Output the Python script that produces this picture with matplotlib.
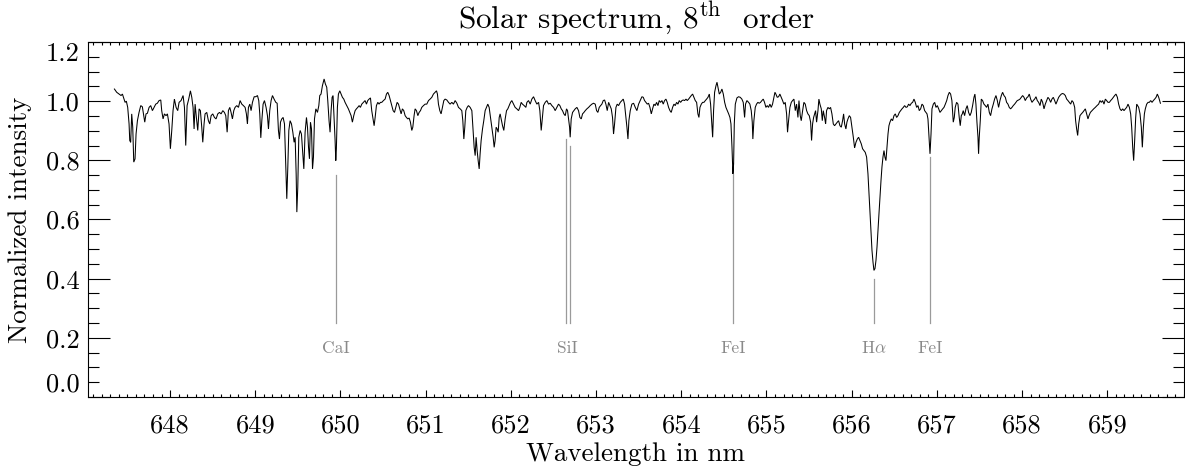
import matplotlib
matplotlib.use("Agg")
import matplotlib.pyplot as plt
from matplotlib.ticker import FixedLocator, FixedFormatter, MultipleLocator

plt.rcParams['font.family'] = 'cmr10'
plt.rcParams['mathtext.fontset'] = 'cm'
plt.rcParams['axes.unicode_minus'] = False
plt.rcParams['axes.formatter.use_mathtext'] = True

# ---------------- data ----------------
wavelength = [
    647.347, 647.374, 647.401, 647.425, 647.441, 647.456, 647.472, 647.487, 647.503, 647.519,
    647.527, 647.538, 647.550, 647.562, 647.574, 647.589, 647.601, 647.617, 647.636, 647.656,
    647.675, 647.691, 647.703, 647.718, 647.734, 647.754, 647.773, 647.793, 647.812, 647.832,
    647.851, 647.871, 647.891, 647.902, 647.918, 647.934, 647.953, 647.969, 647.988, 648.004,
    648.020, 648.035, 648.051, 648.071, 648.090, 648.106, 648.129, 648.153, 648.169, 648.184,
    648.200, 648.219, 648.239, 648.255, 648.270, 648.282, 648.294, 648.309, 648.325, 648.341,
    648.356, 648.372, 648.384, 648.399, 648.411, 648.431, 648.450, 648.466, 648.482, 648.501,
    648.521, 648.540, 648.560, 648.580, 648.599, 648.619, 648.638, 648.654, 648.670, 648.685,
    648.701, 648.716, 648.732, 648.748, 648.763, 648.783, 648.803, 648.822, 648.842, 648.861,
    648.881, 648.896, 648.908, 648.920, 648.936, 648.951, 648.967, 648.987, 649.006, 649.026,
    649.041, 649.053, 649.065, 649.077, 649.092, 649.108, 649.127, 649.143, 649.155, 649.170,
    649.186, 649.202, 649.221, 649.241, 649.257, 649.272, 649.284, 649.296, 649.311, 649.327,
    649.343, 649.358, 649.370, 649.382, 649.394, 649.409, 649.425, 649.441, 649.456, 649.468,
    649.480, 649.488, 649.499, 649.511, 649.527, 649.542, 649.558, 649.570, 649.585, 649.601,
    649.613, 649.625, 649.636, 649.648, 649.660, 649.672, 649.683, 649.695, 649.711, 649.730,
    649.746,
    649.757, 649.772, 649.788, 649.808, 649.823, 649.839, 649.851, 649.866, 649.878, 649.890,
    649.902, 649.913, 649.925, 649.937, 649.945, 649.952, 649.964, 649.976, 649.992, 650.007,
    650.023, 650.039, 650.054, 650.074, 650.093, 650.109, 650.125, 650.140, 650.156, 650.172,
    650.187, 650.203, 650.219, 650.234, 650.250, 650.270, 650.289, 650.305, 650.320, 650.336,
    650.352, 650.367, 650.383, 650.395, 650.407, 650.422, 650.438, 650.453, 650.469, 650.485,
    650.504, 650.524, 650.540, 650.555, 650.571, 650.587, 650.602, 650.618, 650.634, 650.649,
    650.665, 650.681, 650.696, 650.712, 650.727, 650.743, 650.759, 650.774, 650.790, 650.806,
    650.821, 650.837, 650.849, 650.864, 650.876, 650.892, 650.908, 650.923, 650.939, 650.954,
    650.974, 650.994, 651.013, 651.033, 651.052, 651.072, 651.091, 651.111, 651.127, 651.138,
    651.150, 651.166, 651.181, 651.197, 651.213, 651.228, 651.248, 651.268, 651.287, 651.307,
    651.326, 651.346, 651.366, 651.385, 651.405, 651.424, 651.436, 651.448, 651.459, 651.471,
    651.487, 651.502, 651.522, 651.542, 651.557, 651.569, 651.581, 651.592, 651.604, 651.616,
    651.628, 651.639, 651.651, 651.667, 651.682, 651.698, 651.714, 651.729, 651.745, 651.761,
    651.776, 651.792, 651.804, 651.815, 651.827, 651.839, 651.851, 651.863, 651.874, 651.886,
    651.902, 651.917, 651.933, 651.949, 651.964, 651.980, 651.996, 652.011, 652.031, 652.050,
    652.070, 652.090, 652.105, 652.121, 652.136, 652.156, 652.176,
    652.188, 652.207, 652.227, 652.246, 652.266, 652.285, 652.305, 652.325, 652.340, 652.356,
    652.368, 652.383, 652.403, 652.422, 652.442, 652.462, 652.481, 652.501, 652.520, 652.540,
    652.559, 652.575, 652.591, 652.606, 652.622, 652.638, 652.653, 652.665, 652.677, 652.689,
    652.696, 652.708, 652.724, 652.739, 652.755, 652.775, 652.794, 652.810, 652.826, 652.841,
    652.857, 652.873, 652.892, 652.912, 652.931, 652.951, 652.970, 652.990, 653.006, 653.021,
    653.037, 653.053, 653.068, 653.084, 653.100, 653.115, 653.131, 653.147, 653.162, 653.178,
    653.193, 653.205, 653.217, 653.233, 653.248, 653.264, 653.284, 653.303, 653.319, 653.334,
    653.350, 653.362, 653.374, 653.385, 653.401, 653.420, 653.440, 653.460, 653.479, 653.499,
    653.518, 653.538, 653.554, 653.569, 653.585, 653.601, 653.616, 653.632, 653.648, 653.663,
    653.679, 653.694, 653.710, 653.726, 653.741, 653.757, 653.773, 653.788, 653.804, 653.820,
    653.835, 653.851, 653.867, 653.882, 653.898, 653.914, 653.929, 653.945, 653.961, 653.976,
    653.992, 654.008, 654.023, 654.039, 654.055, 654.070, 654.086, 654.101, 654.117, 654.133,
    654.148, 654.164, 654.180, 654.195, 654.207, 654.219, 654.235, 654.250, 654.266, 654.282,
    654.297, 654.313, 654.329, 654.344, 654.356, 654.368, 654.379, 654.391, 654.407, 654.419,
    654.430, 654.446, 654.462, 654.477, 654.493, 654.509, 654.524, 654.540, 654.556, 654.571,
    654.583, 654.595, 654.606, 654.614, 654.622, 654.634,
    654.653, 654.672, 654.692, 654.711, 654.727, 654.743, 654.754, 654.770, 654.790, 654.805,
    654.821, 654.833, 654.840, 654.852, 654.868, 654.883, 654.899, 654.915, 654.930, 654.946,
    654.962, 654.977, 654.993, 655.009, 655.024, 655.040, 655.056, 655.071, 655.087, 655.099,
    655.110, 655.126, 655.142, 655.157, 655.173, 655.189, 655.204, 655.220, 655.236, 655.247,
    655.259, 655.275, 655.291, 655.306, 655.322, 655.338, 655.353, 655.369, 655.381, 655.396,
    655.408, 655.424, 655.439, 655.455, 655.471, 655.486, 655.502, 655.518, 655.529, 655.541,
    655.553, 655.565, 655.576, 655.588, 655.604, 655.615, 655.627, 655.643, 655.655, 655.666,
    655.682, 655.694, 655.705, 655.721, 655.737, 655.752, 655.768, 655.784, 655.799, 655.815,
    655.831, 655.846, 655.862, 655.878, 655.893, 655.905, 655.917, 655.932, 655.944, 655.956,
    655.972, 655.987, 656.003, 656.019, 656.034, 656.050, 656.066, 656.081, 656.097, 656.112,
    656.128, 656.144, 656.159, 656.175, 656.191, 656.203, 656.214, 656.226, 656.238, 656.250,
    656.261, 656.273, 656.285, 656.297, 656.308, 656.320, 656.332, 656.344, 656.355, 656.367,
    656.379, 656.390, 656.402, 656.414, 656.426, 656.437, 656.449, 656.465, 656.480, 656.496,
    656.512, 656.527, 656.543, 656.559, 656.574, 656.590, 656.606, 656.621, 656.637, 656.653,
    656.668, 656.684, 656.700, 656.715, 656.731, 656.746, 656.762, 656.778, 656.793, 656.809,
    656.825, 656.840, 656.856, 656.872, 656.884, 656.895, 656.907, 656.919, 656.931, 656.942,
    656.958, 656.974, 656.989, 657.005, 657.021, 657.036, 657.052, 657.068, 657.083, 657.099,
    657.115, 657.130, 657.146,
    657.161, 657.176, 657.192, 657.204, 657.215, 657.231, 657.247, 657.262, 657.274, 657.286,
    657.298, 657.309, 657.325, 657.341, 657.356, 657.372, 657.388, 657.403, 657.419, 657.435,
    657.446, 657.458, 657.470, 657.482, 657.489, 657.497, 657.509, 657.521, 657.536, 657.552,
    657.568, 657.583, 657.599, 657.615, 657.630, 657.646, 657.662, 657.677, 657.693, 657.709,
    657.724, 657.740, 657.756, 657.771, 657.787, 657.803, 657.818, 657.834, 657.849, 657.865,
    657.881, 657.896, 657.912, 657.928, 657.943, 657.959, 657.975, 657.990, 658.006, 658.022,
    658.037, 658.053, 658.069, 658.084, 658.100, 658.116, 658.131, 658.147, 658.163, 658.178,
    658.194, 658.210, 658.225, 658.241, 658.257, 658.272, 658.288, 658.303, 658.319, 658.335,
    658.350, 658.366, 658.382, 658.397, 658.413, 658.429, 658.444, 658.460, 658.476, 658.491,
    658.507, 658.523, 658.538, 658.554, 658.570, 658.585, 658.601, 658.617, 658.628, 658.640,
    658.652, 658.664, 658.679, 658.695, 658.711, 658.726, 658.742, 658.758, 658.773, 658.785,
    658.801, 658.820, 658.840, 658.859, 658.879, 658.898, 658.914, 658.930, 658.945, 658.961,
    658.977, 658.992, 659.008, 659.024, 659.039, 659.055, 659.071, 659.086, 659.102, 659.118,
    659.133, 659.149, 659.165, 659.180, 659.196, 659.212, 659.227, 659.243, 659.259, 659.274,
    659.286, 659.298, 659.309, 659.321, 659.333, 659.345, 659.356, 659.368, 659.384, 659.399,
    659.411, 659.423, 659.435, 659.446, 659.462, 659.478, 659.493, 659.509, 659.525, 659.540,
    659.556, 659.572, 659.587, 659.603, 659.623,
]

intensity = [
    1.041, 1.030, 1.024, 1.019, 1.024, 1.011, 0.996, 1.000, 0.979, 0.923,
    0.867, 0.861, 0.957, 0.912, 0.794, 0.805, 0.889, 0.934, 0.962, 0.985,
    0.981, 0.951, 0.929, 0.957, 0.959, 0.979, 0.985, 0.968, 0.979, 0.990,
    0.993, 1.002, 1.004, 0.968, 0.940, 0.957, 0.951, 0.957, 0.923, 0.839,
    0.901, 0.968, 1.007, 0.979, 0.968, 0.996, 1.002, 1.019, 0.979, 0.850,
    0.985, 1.007, 1.035, 1.013, 0.979, 0.906, 0.990, 0.945, 0.901, 0.974,
    0.968, 0.912, 0.861, 0.923, 0.957, 0.962, 0.934, 0.923, 0.951, 0.957,
    0.945, 0.940, 0.957, 0.962, 0.957, 0.968, 0.962, 0.951, 0.895, 0.968,
    0.979, 0.962, 0.940, 0.968, 0.979, 0.985, 0.979, 1.002, 0.990, 0.985,
    0.979, 0.957, 0.923, 0.979, 0.990, 0.968, 0.996, 1.015, 1.015, 1.019,
    1.002, 0.957, 0.876, 0.934, 0.990, 1.002, 0.979, 0.951, 0.906, 0.968,
    1.002, 1.019, 1.007, 0.996, 0.993, 0.901, 0.872, 0.929, 0.940, 0.945,
    0.923, 0.788, 0.670, 0.777, 0.901, 0.934, 0.923, 0.895, 0.861, 0.878,
    0.754, 0.625, 0.709, 0.878, 0.901, 0.889, 0.822, 0.771, 0.895, 0.945,
    0.912, 0.844, 0.805, 0.929, 0.906, 0.771, 0.811, 0.940, 0.974, 0.962,
    0.985,
    1.019, 1.024, 1.052, 1.075, 1.058, 1.047, 1.002, 0.934, 0.895, 0.968,
    1.013, 1.019, 0.945, 0.867, 0.799, 0.839, 0.979, 1.024, 1.035, 1.024,
    1.013, 1.007, 0.996, 0.985, 0.974, 0.962, 0.951, 0.929, 0.951, 0.968,
    0.974, 0.979, 0.985, 0.979, 0.990, 0.996, 1.002, 0.990, 1.002, 1.007,
    1.011, 0.968, 0.940, 0.917, 0.945, 0.985, 0.996, 0.990, 0.996, 0.996,
    1.002, 1.007, 1.024, 1.030, 1.019, 1.002, 0.985, 0.968, 0.962, 0.979,
    0.996, 0.990, 0.974, 0.957, 0.974, 0.968, 0.951, 0.945, 0.940, 0.943,
    0.929, 0.901, 0.912, 0.951, 0.974, 0.968, 0.951, 0.962, 0.968, 0.979,
    0.985, 0.990, 0.990, 1.002, 1.007, 1.013, 1.024, 1.030, 1.035, 1.024,
    0.990, 0.968, 0.957, 0.979, 1.002, 1.007, 1.004, 0.996, 0.990, 0.996,
    0.990, 1.002, 0.993, 0.979, 0.974, 0.968, 0.934, 0.872, 0.912, 0.968,
    0.979, 0.985, 0.979, 0.968, 0.901, 0.844, 0.816, 0.878, 0.833, 0.799,
    0.771, 0.822, 0.867, 0.906, 0.934, 0.968, 0.979, 0.990, 0.979, 0.945,
    0.912, 0.878, 0.844, 0.867, 0.912, 0.906, 0.895, 0.945, 0.957, 0.940,
    0.917, 0.901, 0.940, 0.968, 0.974, 0.985, 0.996, 1.002, 0.990, 0.979,
    0.974, 0.968, 0.979, 0.996, 0.990, 0.985, 0.979,
    0.996, 1.002, 0.990, 1.007, 1.015, 1.002, 0.990, 0.996, 0.968, 0.901,
    0.940, 0.985, 0.996, 1.002, 0.990, 0.993, 0.985, 0.979, 0.968, 0.979,
    0.990, 0.985, 0.974, 0.968, 0.957, 0.951, 0.974, 0.968, 0.940, 0.912,
    0.878, 0.940, 0.962, 0.968, 0.974, 0.979, 0.968, 0.945, 0.940, 0.957,
    0.962, 0.968, 0.974, 0.979, 0.985, 0.990, 0.993, 0.990, 0.968, 0.962,
    0.979, 0.985, 0.990, 1.002, 1.004, 0.990, 0.968, 0.996, 0.985, 0.974,
    0.945, 0.889, 0.923, 0.979, 0.990, 0.985, 0.996, 1.002, 1.007, 0.990,
    0.945, 0.912, 0.872, 0.934, 0.968, 0.990, 0.993, 0.979, 0.968, 0.990,
    1.002, 1.015, 1.013, 1.002, 0.996, 0.990, 0.993, 0.979, 0.957, 0.974,
    0.990, 0.985, 0.996, 0.985, 1.002, 0.996, 1.002, 0.990, 1.002, 1.007,
    0.996, 0.979, 0.968, 0.962, 0.979, 0.990, 0.985, 0.996, 0.990, 1.002,
    0.996, 1.002, 1.004, 1.002, 1.007, 1.002, 1.007, 1.013, 1.019, 1.024,
    1.013, 1.002, 0.996, 0.957, 0.945, 0.979, 0.990, 0.996, 0.996, 1.002,
    1.007, 1.013, 1.024, 0.990, 0.934, 0.878, 0.968, 1.030, 1.052, 1.064,
    1.047, 1.024, 1.030, 1.041, 1.024, 0.996, 0.979, 0.968, 0.957, 0.945,
    0.923, 0.844, 0.754, 0.788, 0.923, 0.990,
    1.011, 1.015, 1.013, 1.007, 0.996, 0.945, 0.990, 1.002, 0.996, 0.990,
    0.968, 0.929, 0.872, 0.934, 0.979, 0.990, 0.996, 0.993, 0.996, 1.002,
    1.007, 0.996, 0.979, 0.985, 0.979, 0.990, 0.979, 0.990, 1.013, 1.030,
    1.024, 1.013, 1.015, 1.024, 1.013, 1.002, 0.990, 0.996, 0.957, 0.895,
    0.934, 0.979, 0.996, 1.002, 1.007, 0.968, 0.990, 0.945, 1.002, 0.951,
    0.934, 0.968, 0.996, 0.990, 0.968, 0.957, 0.951, 0.929, 0.867, 0.923,
    0.945, 0.957, 0.968, 0.929, 0.968, 1.007, 0.990, 0.974, 0.934, 0.968,
    0.945, 0.923, 0.968, 0.979, 0.974, 0.979, 0.957, 0.923, 0.917, 0.923,
    0.929, 0.934, 0.917, 0.912, 0.934, 0.957, 0.923, 0.906, 0.929, 0.940,
    0.951, 0.945, 0.912, 0.878, 0.842, 0.861, 0.872, 0.878, 0.867, 0.856,
    0.839, 0.833, 0.827, 0.811, 0.754, 0.687, 0.619, 0.552, 0.496, 0.456,
    0.428, 0.434, 0.462, 0.507, 0.563, 0.619, 0.676, 0.732, 0.777, 0.811,
    0.833, 0.811, 0.799, 0.844, 0.889, 0.917, 0.929, 0.940, 0.934, 0.951,
    0.957, 0.945, 0.951, 0.962, 0.968, 0.974, 0.979, 0.985, 0.979, 0.981,
    0.990, 0.985, 0.993, 0.996, 1.007, 0.996, 0.979, 0.985, 0.968, 0.974,
    0.990, 0.985, 0.968, 0.962, 0.957, 0.940, 0.878, 0.822, 0.889, 0.974,
    0.990, 0.996, 0.979, 0.985, 0.974, 0.962, 0.968, 0.974, 0.979, 0.990,
    1.002, 1.019, 1.030,
    1.024, 1.002, 0.929, 0.945, 0.979, 0.996, 0.990, 0.945, 0.917, 0.951,
    0.957, 0.968, 0.951, 0.974, 0.985, 0.962, 0.951, 0.962, 0.985, 1.013,
    1.024, 0.990, 0.929, 0.878, 0.822, 0.878, 0.934, 1.007, 1.002, 0.990,
    0.985, 0.979, 0.990, 0.962, 0.951, 0.974, 0.990, 1.007, 1.019, 1.002,
    0.979, 1.002, 1.019, 1.030, 1.019, 1.013, 0.996, 0.990, 0.979, 0.974,
    0.979, 0.985, 0.990, 0.996, 1.002, 1.004, 1.007, 1.013, 1.019, 1.013,
    1.002, 1.011, 1.015, 1.024, 1.007, 0.996, 1.002, 1.007, 1.015, 1.002,
    0.996, 0.985, 1.007, 0.996, 0.974, 0.990, 1.002, 1.013, 1.007, 0.996,
    1.007, 1.013, 1.002, 0.990, 1.002, 1.013, 1.019, 1.024, 1.026, 1.024,
    1.019, 1.007, 1.002, 0.996, 0.990, 1.002, 0.996, 0.979, 0.934, 0.906,
    0.884, 0.923, 0.951, 0.957, 0.962, 0.968, 0.974, 0.957, 0.940, 0.951,
    0.962, 0.968, 0.974, 0.979, 0.985, 0.990, 1.002, 0.996, 1.002, 0.990,
    1.007, 1.002, 0.996, 0.996, 1.002, 1.007, 1.013, 1.019, 1.024, 1.013,
    0.990, 0.974, 0.968, 0.974, 0.968, 0.974, 0.979, 0.990, 0.979, 0.957,
    0.912, 0.844, 0.799, 0.867, 0.945, 0.990, 0.985, 0.979, 0.957, 0.912,
    0.844, 0.912, 0.957, 0.974, 0.990, 0.996, 0.996, 1.002, 0.996, 1.002,
    1.007, 1.013, 1.024, 1.013, 0.993,
]

# identified lines: label, label position, marker wavelengths, marker top
line_labels = ['CaI', 'SiI', 'FeI', r'H$\alpha$', 'FeI']
label_wavelengths = [649.945, 652.668, 654.606, 656.261, 656.919]
marker_wavelengths = [649.945, 652.645, 652.692, 654.606, 656.261, 656.919]
marker_tops = [0.75, 0.872, 0.850, 0.755, 0.40, 0.81]
marker_bottom = 0.25
label_level = 0.165

x_ticks = [648, 649, 650, 651, 652, 653, 654, 655, 656, 657, 658, 659]
x_ticklabels = ['648', '649', '650', '651', '652', '653', '654', '655', '656', '657', '658', '659']
y_ticks = [0.0, 0.2, 0.4, 0.6, 0.8, 1.0, 1.2]
y_ticklabels = ['0.0', '0.2', '0.4', '0.6', '0.8', '1.0', '1.2']

title = r'Solar spectrum, 8$^{\mathrm{th}}$  order'
xlabel = 'Wavelength in nm'
ylabel = 'Normalized intensity'

# ---------------- figure ----------------
W, H = 1185, 466
fig = plt.figure(figsize=(W / 100, H / 100), dpi=100)
ax = fig.add_axes([88 / W, 1 - 397 / H, 1096 / W, 355 / H])

ax.plot(wavelength, intensity, color='black', lw=0.75, solid_joinstyle='miter')

grey = '#9a9a9a'
for wl, top in zip(marker_wavelengths, marker_tops):
    ax.plot([wl, wl], [marker_bottom, top], color=grey, lw=0.9)
for lab, wl in zip(line_labels, label_wavelengths):
    ax.text(wl, label_level, lab, color='#8a8a8a', fontsize=12.5,
            ha='center', va='center')

ax.set_xlim(647.037, 659.90)
ax.set_ylim(0.0, 1.2)

ax.xaxis.set_major_locator(FixedLocator(x_ticks))
ax.xaxis.set_major_formatter(FixedFormatter(x_ticklabels))
ax.xaxis.set_minor_locator(MultipleLocator(0.1))
ax.yaxis.set_major_locator(FixedLocator(y_ticks))
ax.yaxis.set_major_formatter(FixedFormatter(y_ticklabels))
ax.yaxis.set_minor_locator(MultipleLocator(0.05))

ax.tick_params(axis='both', which='both', direction='in', top=True, right=True,
               width=0.8, colors='black')
ax.tick_params(axis='x', which='major', length=5.0, pad=12, labelsize=19)
ax.tick_params(axis='x', which='minor', length=2.5)
ax.tick_params(axis='y', which='major', length=15.6, pad=6, labelsize=19)
ax.tick_params(axis='y', which='minor', length=8.2)

# IDL-style nudging of the end labels on the y axis
ylabs = ax.get_yticklabels()
ylabs[0].set_va('bottom')
ylabs[-1].set_va('top')

for s in ax.spines.values():
    s.set_linewidth(0.8)

ax.text(0.5, 1 + (42 - 28) / 355, title, transform=ax.transAxes,
        ha='center', va='baseline', fontsize=22.5)
ax.text(0.5, -(454 - 397) / 355, xlabel, transform=ax.transAxes,
        ha='center', va='center', fontsize=19.5)
ax.text((20 - 88) / 1096, 0.5, ylabel, transform=ax.transAxes,
        ha='center', va='center', rotation=90, fontsize=19.5)

fig.savefig('out.png', dpi=100)
